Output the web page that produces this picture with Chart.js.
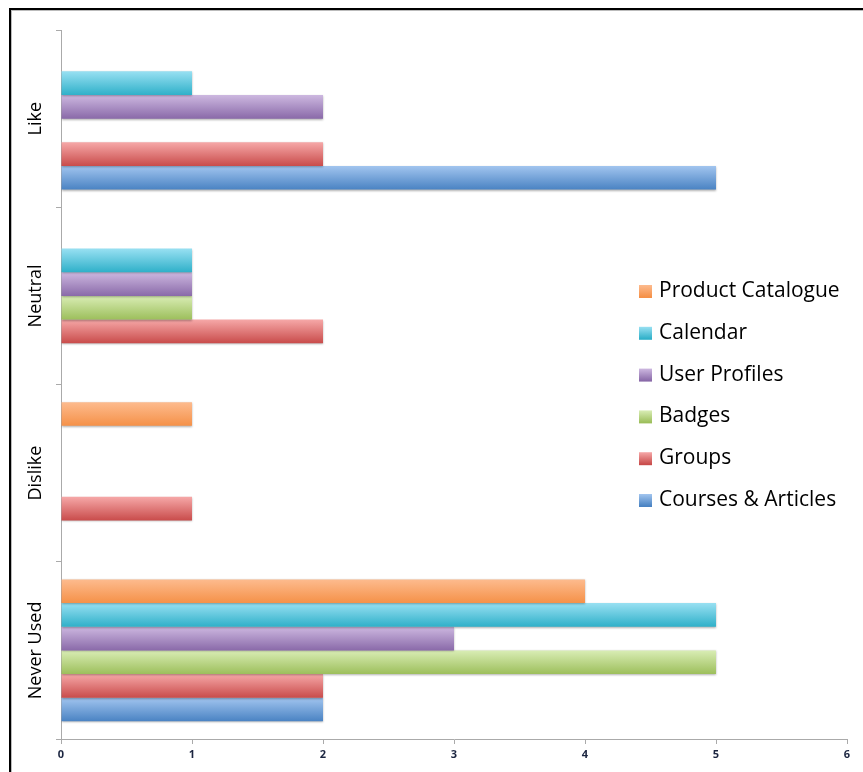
<!DOCTYPE html>
<html>
<head>
<meta charset="utf-8">
<script src="https://cdn.jsdelivr.net/npm/chart.js@4"></script>
<style>
    html, body { margin: 0; padding: 0; background: #fff; }
    #wrap { position: relative; width: 863px; height: 772px; }
    #frame {
        position: absolute; left: 9px; top: 8px; right: 0; bottom: 0;
        border-left: 2px solid #000; border-top: 2px solid #000;
        box-shadow: inset 1px 1px 0 #bbb;
        pointer-events: none;
    }
    canvas { position: absolute; left: 0; top: 0; }
</style>
</head>
<body>
<div id="wrap">
    <canvas id="usageChart" width="863" height="772"></canvas>
    <div id="frame"></div>
</div>
<script>
const categories = ['Like', 'Neutral', 'Dislike', 'Never Used'];

const productCatalogue = [0, 0, 1, 4];
const calendar = [1, 1, 0, 5];
const userProfiles = [2, 1, 0, 3];
const badges = [0, 1, 0, 5];
const groups = [2, 2, 1, 2];
const coursesArticles = [5, 0, 0, 2];

const xTicks = [0, 1, 2, 3, 4, 5, 6];

// light top / dark bottom for the glossy bar look
const shades = {
    'Product Catalogue': ['#fdbb8e', '#f59148'],
    'Calendar': ['#98e0f2', '#2fb0c9'],
    'User Profiles': ['#cdb8e0', '#8a6aa9'],
    'Badges': ['#d9edb5', '#9dbf5c'],
    'Groups': ['#f6a8a8', '#c94c4b'],
    'Courses & Articles': ['#a2c5ef', '#4a83c3']
};

const series = [
    ['Product Catalogue', productCatalogue],
    ['Calendar', calendar],
    ['User Profiles', userProfiles],
    ['Badges', badges],
    ['Groups', groups],
    ['Courses & Articles', coursesArticles]
];

// paint each bar with its own vertical gradient and a soft drop shadow
const glossBars = {
    id: 'glossBars',
    beforeDatasetsDraw(chart) {
        const c = chart.ctx;
        chart.data.datasets.forEach((ds, i) => {
            const [top, bottom] = shades[ds.label];
            chart.getDatasetMeta(i).data.forEach(bar => {
                const y0 = bar.y - bar.height / 2;
                const g = c.createLinearGradient(0, y0, 0, y0 + bar.height);
                g.addColorStop(0, top);
                g.addColorStop(1, bottom);
                // options are shared between bars, so give each one its own copy
                const own = Object.create(bar.options);
                own.backgroundColor = g;
                bar.options = own;
            });
        });
        c.save();
        c.shadowColor = 'rgba(0,0,0,0.3)';
        c.shadowOffsetY = 1;
        c.shadowBlur = 2;
    },
    afterDatasetsDraw(chart) {
        chart.ctx.restore();
    }
};

// rotated category names to the left of the y axis
const sideLabels = {
    id: 'sideLabels',
    afterDraw(chart) {
        const c = chart.ctx;
        const yScale = chart.scales.y;
        c.save();
        c.font = '18px "Open Sans"';
        c.fillStyle = '#000';
        c.textAlign = 'center';
        c.textBaseline = 'middle';
        categories.forEach((name, i) => {
            c.save();
            c.translate(36, yScale.getPixelForValue(i));
            c.rotate(-Math.PI / 2);
            c.fillText(name, 0, 0);
            c.restore();
        });
        c.restore();
    }
};

// legend sitting inside the plot, right side
const innerLegend = {
    id: 'innerLegend',
    afterDraw(chart) {
        const c = chart.ctx;
        const area = chart.chartArea;
        const x = area.left + 578;
        let y = area.top + 261;
        c.save();
        c.font = '21px "Open Sans"';
        c.textBaseline = 'middle';
        chart.data.datasets.forEach(ds => {
            const [top, bottom] = shades[ds.label];
            const g = c.createLinearGradient(0, y - 6, 0, y + 6);
            g.addColorStop(0, top);
            g.addColorStop(1, bottom);
            c.fillStyle = g;
            c.fillRect(x, y - 6, 13, 13);
            c.fillStyle = '#000';
            c.fillText(ds.label, x + 20, y);
            y += 41.8;
        });
        c.restore();
    }
};

const ctx = document.getElementById('usageChart').getContext('2d');
const usageChart = new Chart(ctx, {
    type: 'bar',
    data: {
        labels: categories,
        datasets: series.map(([label, values]) => ({
            label: label,
            data: values,
            backgroundColor: shades[label][1],
            borderWidth: 0,
            categoryPercentage: 0.8,
            barPercentage: 1.0
        }))
    },
    options: {
        indexAxis: 'y',
        responsive: false,
        animation: false,
        layout: { padding: { top: 30, right: 16, left: 0, bottom: 0 } },
        plugins: {
            legend: { display: false },
            tooltip: { enabled: false }
        },
        scales: {
            x: {
                min: 0,
                max: 6,
                afterBuildTicks: scale => { scale.ticks = xTicks.map(v => ({ value: v })); },
                grid: {
                    display: true,
                    drawOnChartArea: false,
                    drawTicks: true,
                    tickLength: 5,
                    color: '#aaa'
                },
                border: { color: '#aaa', width: 1 },
                ticks: {
                    color: '#1b2540',
                    font: { family: '"Open Sans"', size: 11, weight: 'bold' },
                    padding: 4
                },
                afterFit: scale => { scale.height = 33; }
            },
            y: {
                grid: {
                    display: true,
                    drawOnChartArea: false,
                    drawTicks: true,
                    tickLength: 5,
                    offset: true,
                    color: '#aaa'
                },
                border: { color: '#aaa', width: 1 },
                ticks: { display: false },
                afterFit: scale => { scale.width = 61; }
            }
        }
    },
    plugins: [glossBars, sideLabels, innerLegend]
});
</script>
</body>
</html>
